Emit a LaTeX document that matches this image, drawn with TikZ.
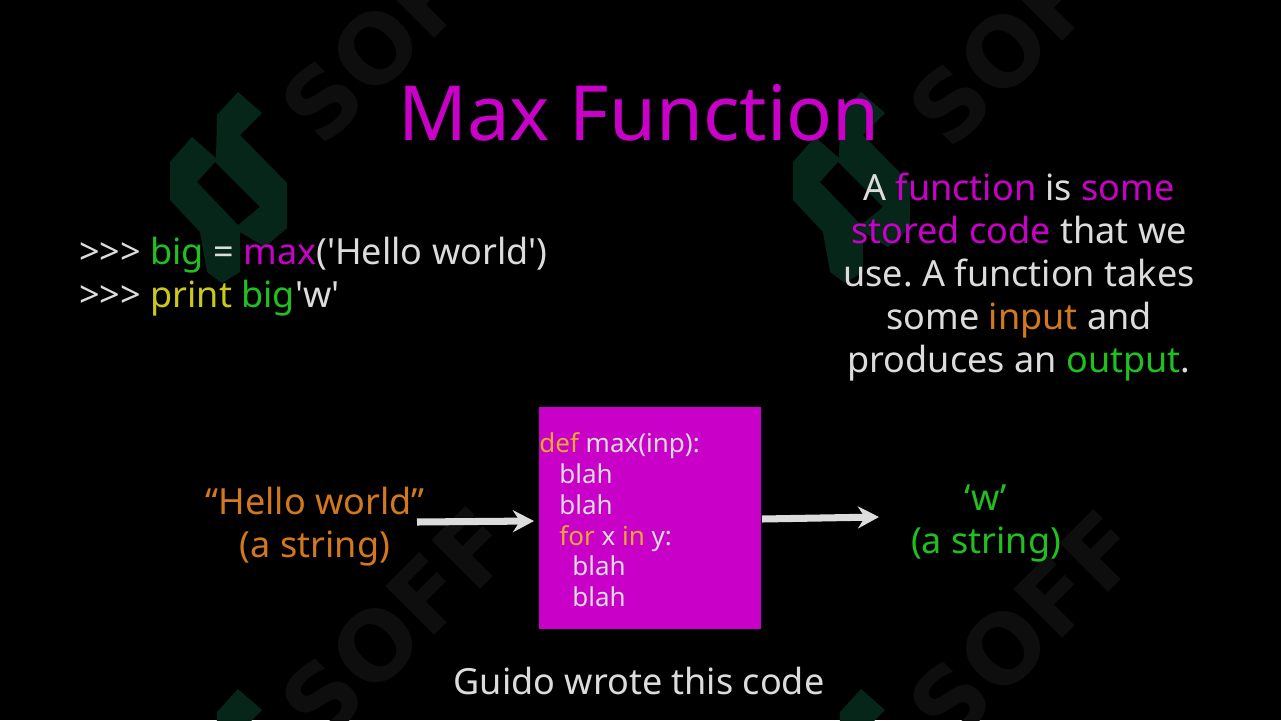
\documentclass[tikz,border=0pt]{standalone}
\usepackage{fontspec}
\setmainfont{Noto Sans}
\newfontfamily\markfont{DejaVu Sans}
\usetikzlibrary{arrows.meta}
\definecolor{slideMagenta}{HTML}{C800C8}
\definecolor{slideGreen}{HTML}{1FC01F}
\definecolor{slideOrange}{HTML}{D2781E}
\definecolor{slideYellow}{HTML}{C8C81E}
\definecolor{slideKey}{HTML}{E8A830}
\definecolor{slideWhite}{HTML}{DCDCDC}
\definecolor{markGreen}{HTML}{07261A}
\definecolor{markGray}{HTML}{0E0E0E}
\newcommand{\mg}[1]{\textcolor{slideMagenta}{#1}}
\newcommand{\gr}[1]{\textcolor{slideGreen}{#1}}
\newcommand{\og}[1]{\textcolor{slideOrange}{#1}}
\newcommand{\yl}[1]{\textcolor{slideYellow}{#1}}
\newcommand{\kw}[1]{\textcolor{slideKey}{#1}}
\newcommand{\sq}{\textquotesingle}
\tikzset{>=stealth,
  slidetext/.style={text=slideWhite,font=\fontsize{20.5pt}{24.5pt}\selectfont\frenchspacing,align=center,inner sep=0pt},
  codetext/.style={text=slideWhite,font=\fontsize{14.8pt}{17.6pt}\selectfont,align=left,inner sep=0pt},
  flow/.style={draw=slideWhite,line width=4pt,-{Stealth[length=12pt,width=12.5pt,inset=4pt]}},
  softmark/.style={text=markGray,font=\markfont\fontsize{54pt}{54pt}\selectfont\bfseries,rotate=45,inner sep=0pt}}
\begin{document}
\begin{tikzpicture}[x=0.02cm,y=-0.02cm]
  \useasboundingbox (0,0) rectangle (1281,720);
  \fill[black] (0,0) rectangle (1281,720);
  % watermark
  \foreach \dx/\dy in {0/0,623/0,0/597,623/597}{
    \fill[markGreen,even odd rule,shift={(\dx,\dy)}]
      (238,92) -- (262,113) -- (240,135) -- (287,183) -- (287,228) -- (265,247)
      -- (240,232) -- (240,272) -- (222,283) -- (207,272) -- (200,232) -- (170,200)
      -- (170,162) -- (192,137) -- (216,158) -- (217,115) -- cycle
      (215,162) -- (260,207) -- (238,225) -- (197,182) -- cycle;
  }
  \foreach \tx/\ty in {397/27,1025/30,397/624,1025/627}{
    \node[softmark] (soff\tx) at (\tx,\ty) {SOFF};
  }
  % texts
  \node[text=slideMagenta,font=\fontsize{43.3pt}{44pt}\selectfont,inner sep=0pt] (title) at (639,113) {Max Function};
  \node[slidetext,align=left,anchor=west] (shell) at (79,277)
    {>{}>{}> \gr{big} = \mg{max}(\sq Hello world\sq)\\>{}>{}> \yl{print} \gr{big}\sq w\sq};
  \node[slidetext] (note) at (1019,277)
    {A \mg{function} is \mg{some}\\\mg{stored code} that we\\use. A function takes\\some \og{input} and\\produces an \gr{output}.};
  \node[slidetext,text=slideOrange] (input) at (315,527) {“Hello world”\\(a string)};
  \node[slidetext,text=slideGreen] (output) at (986,523) {‘w’\\(a string)};
  \node[fill=slideMagenta,minimum width=222*0.02cm,minimum height=222*0.02cm,inner sep=0pt] (box) at (650,518) {};
  \node[codetext,anchor=north west] (code) at (539,432)
    {\kw{def} max(inp):\\
     \hspace*{11.4pt}blah\\
     \hspace*{11.4pt}blah\\
     \hspace*{11.4pt}\kw{for} x \kw{in} y:\\
     \hspace*{18.8pt}blah\\
     \hspace*{18.8pt}blah};
  \node[slidetext] (author) at (639,681) {Guido wrote this code};
  % connectors
  \coordinate (inStart) at (417,522);
  \coordinate (inEnd) at (534,521);
  \coordinate (outStart) at (762,519);
  \coordinate (outEnd) at (879,517);
  \draw[flow] (inStart) -- (inEnd);
  \draw[flow] (outStart) -- (outEnd);
\end{tikzpicture}
\end{document}
